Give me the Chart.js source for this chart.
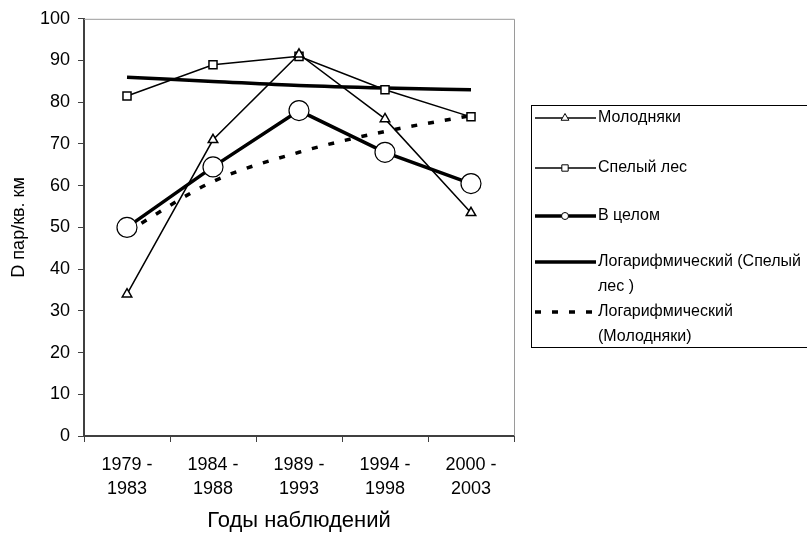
<!DOCTYPE html>
<html>
<head>
<meta charset="utf-8">
<script src="https://cdn.jsdelivr.net/npm/chart.js@4.4.0/dist/chart.umd.min.js"></script>
<style>
  html, body { margin: 0; padding: 0; background: #fff; }
  #wrap { width: 807px; height: 536px; }
</style>
</head>
<body>
<div id="wrap"><canvas id="chart" width="807" height="536"></canvas></div>
<script>
// Периоды наблюдений
const periods = [['1979 -', '1983'], ['1984 -', '1988'], ['1989 -', '1993'], ['1994 -', '1998'], ['2000 -', '2003']];

// Значения серий (пар/кв. км)
const youngStand = [34, 71, 91.5, 76, 53.5];
const matureForest = [81.5, 89, 91, 83, 76.5];
const overall = [50, 64.5, 78, 68, 60.5];
// Линии тренда
const trendMature = [86, 85, 84, 83.4, 83];
const trendYoung = [48.9, 61, 68, 73, 76.8];

const legendLines = [
    ['Молодняки'],
    ['Спелый лес'],
    ['В целом'],
    ['Логарифмический (Спелый', 'лес )'],
    ['Логарифмический', '(Молодняки)']
];

const FONT = '"Liberation Sans", Arial, sans-serif';
const AXIS = '#404040';

// Рамка области построения и легенда
const decorPlugin = {
    id: 'decor',
    afterDraw(chart) {
        const ctx = chart.ctx;
        const a = chart.chartArea;
        ctx.save();
        ctx.strokeStyle = '#9a9a9a';
        ctx.lineWidth = 1;
        ctx.beginPath();
        ctx.moveTo(a.left, a.top + 0.5);
        ctx.lineTo(a.right + 0.5, a.top + 0.5);
        ctx.lineTo(a.right + 0.5, a.bottom);
        ctx.stroke();

        // легенда
        ctx.strokeStyle = '#000';
        ctx.strokeRect(531.5, 105.5, 276, 242);
        const rowsY = [118, 168, 216, 262, 312];
        ctx.font = '16px ' + FONT;
        ctx.textBaseline = 'middle';
        chart.data.datasets.forEach((ds, i) => {
            const y = rowsY[i];
            ctx.save();
            ctx.strokeStyle = '#000';
            ctx.lineWidth = ds.borderWidth;
            ctx.setLineDash(ds.borderDash || []);
            ctx.beginPath();
            ctx.moveTo(535, y);
            ctx.lineTo(596, y);
            ctx.stroke();
            ctx.restore();
            if (ds.pointRadius > 0) {
                const r = ds.pointStyle === 'circle' ? 3.5 : 4.5;
                ctx.fillStyle = '#fff';
                ctx.strokeStyle = '#000';
                ctx.lineWidth = 1;
                Chart.helpers.drawPoint(ctx, { pointStyle: ds.pointStyle, radius: r, borderWidth: 1 }, 565, y);
            }
            ctx.fillStyle = '#000';
            legendLines[i].forEach((t, k) => {
                ctx.fillText(t, 598, y + k * 25);
            });
        });
        ctx.restore();
    }
};

const ctx = document.getElementById('chart').getContext('2d');
new Chart(ctx, {
    type: 'line',
    data: {
        labels: periods,
        datasets: [{
            label: 'Молодняки',
            data: youngStand,
            borderColor: '#000',
            borderWidth: 1.5,
            pointStyle: 'triangle',
            pointRadius: 5.5,
            pointBackgroundColor: '#fff',
            pointBorderColor: '#000',
            pointBorderWidth: 1.5,
            order: 1
        }, {
            label: 'Спелый лес',
            data: matureForest,
            borderColor: '#000',
            borderWidth: 1.5,
            pointStyle: 'rect',
            pointRadius: 5.7,
            pointBackgroundColor: '#fff',
            pointBorderColor: '#000',
            pointBorderWidth: 1.5,
            order: 2
        }, {
            label: 'В целом',
            data: overall,
            borderColor: '#000',
            borderWidth: 3.5,
            pointStyle: 'circle',
            pointRadius: 10,
            pointBackgroundColor: '#fff',
            pointBorderColor: '#000',
            pointBorderWidth: 1.2,
            order: 0
        }, {
            label: 'Логарифмический (Спелый лес )',
            data: trendMature,
            borderColor: '#000',
            borderWidth: 3.5,
            pointRadius: 0,
            cubicInterpolationMode: 'monotone',
            order: 4
        }, {
            label: 'Логарифмический (Молодняки)',
            data: trendYoung,
            borderColor: '#000',
            borderWidth: 3.5,
            borderDash: [6, 11],
            pointRadius: 0,
            cubicInterpolationMode: 'monotone',
            order: 3
        }]
    },
    options: {
        responsive: false,
        animation: false,
        layout: { padding: { top: 18, right: 293, left: 0, bottom: 0 } },
        plugins: {
            legend: { display: false },
            tooltip: { enabled: false }
        },
        scales: {
            x: {
                offset: true,
                grid: {
                    offset: true,
                    drawOnChartArea: false,
                    drawTicks: true,
                    tickLength: 6,
                    tickColor: AXIS
                },
                border: { color: AXIS, width: 2 },
                ticks: {
                    color: '#000',
                    padding: 12,
                    maxRotation: 0,
                    font: { family: FONT, size: 18, lineHeight: 1.28 }
                },
                title: {
                    display: true,
                    text: 'Годы наблюдений',
                    color: '#000',
                    font: { family: FONT, size: 22 },
                    padding: { top: 0, bottom: 2 }
                },
                afterFit(scale) { scale.height = 100; }
            },
            y: {
                min: 0,
                max: 100,
                grid: {
                    drawOnChartArea: false,
                    drawTicks: true,
                    tickLength: 6,
                    tickColor: AXIS
                },
                border: { color: AXIS, width: 2 },
                ticks: {
                    stepSize: 10,
                    color: '#000',
                    padding: 8,
                    font: { family: FONT, size: 18 }
                },
                title: {
                    display: true,
                    text: 'D пар/кв. км',
                    color: '#000',
                    font: { family: FONT, size: 18 },
                    padding: { top: 8, bottom: 0 }
                },
                afterFit(scale) { scale.width = 84; }
            }
        }
    },
    plugins: [decorPlugin]
});
</script>
</body>
</html>
